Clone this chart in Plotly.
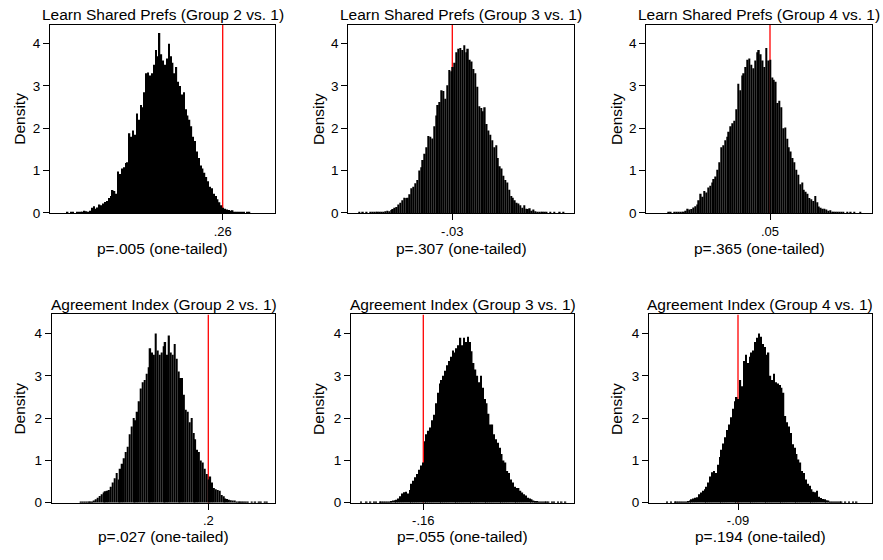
import plotly.graph_objects as go

# ---------------- data ----------------
titles = [
    "Learn Shared Prefs (Group 2 vs. 1)",
    "Learn Shared Prefs (Group 3 vs. 1)",
    "Learn Shared Prefs (Group 4 vs. 1)",
    "Agreement Index (Group 2 vs. 1)",
    "Agreement Index (Group 3 vs. 1)",
    "Agreement Index (Group 4 vs. 1)",
]
x_titles = [
    "p=.005 (one-tailed)",
    "p=.307 (one-tailed)",
    "p=.365 (one-tailed)",
    "p=.027 (one-tailed)",
    "p=.055 (one-tailed)",
    "p=.194 (one-tailed)",
]
observed = [0.26, -0.03, 0.05, 0.20, -0.16, -0.09]
observed_labels = [".26", "-.03", ".05", ".2", "-.16", "-.09"]
bin_width = 0.0075
bin_start = [-0.364, -0.406, -0.358, -0.313, -0.420, -0.3767]
x_ranges = [
    [-0.4308, 0.4692],
    [-0.4460, 0.4568],
    [-0.4448, 0.4568],
    [-0.4264, 0.4680],
    [-0.4492, 0.4428],
    [-0.4460, 0.4448],
]
y_ticks = [0, 1, 2, 3, 4]

dens_lsp_g2 = [
    0.01, 0.00, 0.01, 0.01, 0.00, 0.01, 0.02, 0.01, 0.03, 0.05,
    0.04, 0.03, 0.05, 0.12, 0.16, 0.10, 0.13, 0.20, 0.18, 0.22,
    0.26, 0.28, 0.35, 0.40, 0.54, 0.52, 0.45, 0.98, 0.92, 1.05,
    1.08, 1.18, 1.20, 1.88, 1.80, 1.95, 1.85, 2.35, 2.20, 2.55,
    2.50, 2.85, 3.30, 3.32, 3.25, 3.30, 3.50, 3.85, 3.70, 4.25,
    3.75, 3.60, 3.50, 3.65, 4.00, 3.70, 3.55, 3.30, 3.45, 3.10,
    3.00, 2.80, 2.85, 2.45, 2.30, 2.20, 2.05, 1.80, 1.70, 1.45,
    1.30, 1.12, 1.05, 0.95, 0.85, 0.75, 0.62, 0.58, 0.45, 0.40,
    0.32, 0.25, 0.18, 0.12, 0.10, 0.08, 0.07, 0.05, 0.06, 0.03,
    0.02, 0.03, 0.01, 0.02, 0.01, 0.00, 0.01, 0.01,
]
dens_lsp_g3 = [
    0.01, 0.00, 0.01, 0.00, 0.01, 0.00, 0.01, 0.01, 0.02, 0.01,
    0.03, 0.02, 0.03, 0.02, 0.04, 0.05, 0.04, 0.07, 0.09, 0.12,
    0.14, 0.20, 0.24, 0.30, 0.36, 0.35, 0.36, 0.44, 0.58, 0.62,
    0.70, 0.78, 1.00, 1.08, 1.25, 1.40, 1.55, 1.82, 1.80, 1.76,
    2.05, 2.30, 2.55, 2.62, 2.90, 2.88, 2.70, 3.02, 3.38, 3.35,
    3.45, 3.55, 3.80, 3.88, 3.90, 3.85, 3.96, 3.80, 3.88, 3.62,
    3.58, 3.40, 3.30, 2.98, 2.52, 2.48, 2.40, 2.50, 2.10, 1.95,
    1.85, 1.72, 1.55, 1.60, 1.30, 1.10, 1.05, 0.88, 0.78, 0.72,
    0.55, 0.40, 0.36, 0.30, 0.24, 0.22, 0.18, 0.12, 0.18, 0.10,
    0.09, 0.11, 0.05, 0.08, 0.04, 0.03, 0.02, 0.03, 0.01, 0.02,
    0.01, 0.00, 0.01, 0.00, 0.01, 0.00, 0.00, 0.01, 0.00, 0.01,
    0.00,
]
dens_lsp_g4 = [
    0.01, 0.01, 0.00, 0.01, 0.02, 0.01, 0.02, 0.03, 0.03, 0.05,
    0.10, 0.08, 0.09, 0.13, 0.16, 0.20, 0.30, 0.45, 0.38, 0.52,
    0.48, 0.60, 0.64, 0.72, 0.80, 0.86, 1.02, 1.20, 1.55, 1.60,
    1.72, 1.80, 1.92, 2.05, 2.12, 2.18, 2.45, 3.05, 2.90, 3.25,
    3.30, 3.45, 3.62, 3.65, 3.50, 3.42, 3.60, 3.80, 3.85, 3.75,
    3.60, 3.45, 3.90, 3.60, 3.62, 3.20, 3.15, 3.10, 2.60, 2.65,
    2.50, 2.00, 2.02, 1.75, 1.55, 1.45, 1.30, 1.20, 1.02, 0.90,
    0.68, 0.72, 0.55, 0.50, 0.45, 0.35, 0.32, 0.28, 0.40, 0.25,
    0.15, 0.12, 0.10, 0.10, 0.08, 0.05, 0.06, 0.03, 0.02, 0.03,
    0.01, 0.02, 0.01, 0.01, 0.00, 0.01, 0.00, 0.01, 0.00, 0.01,
    0.00, 0.00, 0.01,
]
dens_ai_g2 = [
    0.01, 0.01, 0.01, 0.02, 0.02, 0.03, 0.03, 0.05, 0.08, 0.12,
    0.16, 0.20, 0.24, 0.27, 0.28, 0.30, 0.38, 0.48, 0.58, 0.70,
    0.55, 0.80, 0.92, 1.05, 1.20, 1.32, 1.62, 1.80, 2.00, 1.95,
    2.15, 2.40, 2.70, 2.85, 2.90, 3.05, 3.20, 3.65, 3.55, 3.50,
    4.00, 3.60, 3.50, 3.55, 3.70, 3.80, 3.50, 3.95, 3.55, 3.50,
    3.75, 3.40, 3.10, 2.95, 2.95, 2.55, 2.20, 2.15, 1.90, 2.00,
    1.65, 1.50, 1.25, 1.20, 1.00, 0.95, 0.80, 0.68, 0.55, 0.62,
    0.48, 0.35, 0.32, 0.30, 0.28, 0.18, 0.15, 0.10, 0.09, 0.07,
    0.06, 0.05, 0.05, 0.03, 0.03, 0.02, 0.02, 0.01, 0.01, 0.01,
    0.00, 0.01, 0.00, 0.01, 0.00, 0.01, 0.01, 0.00, 0.01, 0.01,
]
dens_ai_g3 = [
    0.00, 0.01, 0.00, 0.00, 0.01, 0.00, 0.01, 0.00, 0.01, 0.01,
    0.00, 0.01, 0.01, 0.02, 0.01, 0.02, 0.03, 0.04, 0.05, 0.06,
    0.07, 0.10, 0.15, 0.22, 0.25, 0.26, 0.22, 0.30, 0.45, 0.52,
    0.60, 0.68, 0.78, 0.88, 0.95, 1.45, 1.62, 1.70, 1.78, 1.95,
    2.08, 2.35, 2.60, 2.82, 2.90, 3.00, 3.12, 3.25, 3.35, 3.45,
    3.60, 3.55, 3.65, 3.72, 3.90, 3.72, 3.90, 3.80, 3.92, 3.80,
    3.58, 3.30, 3.15, 3.00, 2.85, 3.00, 2.72, 2.45, 2.35, 2.10,
    1.85, 1.85, 1.62, 1.50, 1.42, 1.30, 1.15, 1.00, 0.95, 0.75,
    0.70, 0.55, 0.48, 0.38, 0.35, 0.35, 0.28, 0.24, 0.20, 0.17,
    0.12, 0.10, 0.08, 0.05, 0.04, 0.04, 0.03, 0.02, 0.02, 0.01,
    0.01, 0.01, 0.00, 0.01, 0.01, 0.00, 0.01, 0.00, 0.01, 0.00,
    0.01,
]
dens_ai_g4 = [
    0.01, 0.00, 0.01, 0.00, 0.01, 0.01, 0.02, 0.01, 0.02, 0.03,
    0.02, 0.04, 0.05, 0.08, 0.10, 0.12, 0.13, 0.20, 0.24, 0.28,
    0.32, 0.38, 0.48, 0.62, 0.72, 0.75, 0.70, 0.90, 1.08, 1.25,
    1.40, 1.55, 1.72, 1.85, 2.02, 2.22, 2.40, 2.50, 2.45, 2.90,
    2.75, 3.35, 3.50, 3.30, 3.45, 3.55, 3.60, 3.80, 3.90, 4.00,
    3.92, 3.75, 3.68, 3.50, 3.55, 3.00, 2.90, 3.05, 2.85, 2.82,
    2.78, 2.72, 2.60, 2.05, 1.90, 1.80, 1.65, 1.38, 1.30, 1.15,
    1.02, 0.95, 0.75, 0.70, 0.55, 0.45, 0.40, 0.32, 0.26, 0.25,
    0.28, 0.14, 0.11, 0.09, 0.08, 0.06, 0.05, 0.03, 0.03, 0.02,
    0.02, 0.01, 0.01, 0.01, 0.00, 0.01, 0.00, 0.01, 0.00, 0.01,
    0.00, 0.01, 0.00,
]
densities = [dens_lsp_g2, dens_lsp_g3, dens_lsp_g4, dens_ai_g2, dens_ai_g3, dens_ai_g4]

# ---------------- layout geometry (pixels) ----------------
W, H = 883, 560
box_x = [(50, 275), (348.3, 574), (646.3, 871.7),
         (51.7, 275.3), (351, 574), (649, 871.7)]
row_y = [(25, 216), (319, 510)]
title_y = [14.5, 308.5]
xtitle_y = [252, 544.5]
dens_x = [20, 318.3, 616.3]

FONT = "Liberation Sans, Arial, Helvetica, sans-serif"
TXT = 15.5
TICK = 13

fig = go.Figure()
annotations = []
shapes = []
layout_axes = {}

for k in range(6):
    row = k // 3
    col = k % 3
    n = "" if k == 0 else str(k + 1)
    xa, ya = "x" + n, "y" + n
    centers = [bin_start[k] + (i + 0.5) * bin_width for i in range(len(densities[k]))]
    fig.add_trace(go.Bar(
        x=centers, y=densities[k], xaxis=xa, yaxis=ya,
        marker=dict(color="#000000", line=dict(width=0)),
        width=bin_width * 0.8, showlegend=False, hoverinfo="skip",
    ))
    x0, x1 = box_x[k]
    y0, y1 = row_y[row]
    layout_axes["xaxis" + n] = dict(
        domain=[x0 / W, x1 / W], anchor=ya, range=x_ranges[k],
        tickvals=[observed[k]], ticktext=[observed_labels[k]],
        ticks="outside", ticklen=6, tickwidth=1, tickcolor="black",
        showline=True, linecolor="black", linewidth=1, mirror=True,
        showgrid=False, zeroline=False,
        tickfont=dict(family=FONT, size=TICK, color="black"),
    )
    layout_axes["yaxis" + n] = dict(
        domain=[1 - y1 / H, 1 - y0 / H], anchor=xa, range=[0, 4.45],
        tickvals=y_ticks, ticktext=[str(v) for v in y_ticks],
        ticks="outside", ticklen=6, tickwidth=1, tickcolor="black",
        showline=True, linecolor="black", linewidth=1, mirror=True,
        showgrid=False, zeroline=False,
        tickfont=dict(family=FONT, size=TICK + 0.5, color="black"),
    )
    shapes.append(dict(
        type="line", xref=xa, yref=ya, x0=observed[k], x1=observed[k],
        y0=0, y1=4.45, line=dict(color="#ff0000", width=1.3), layer="below",
    ))
    cx = (x0 + x1) / 2 / W
    annotations.append(dict(
        text=titles[k], xref="paper", yref="paper", x=cx, y=1 - title_y[row] / H,
        xanchor="center", yanchor="middle", showarrow=False,
        font=dict(family=FONT, size=TXT, color="black"),
    ))
    annotations.append(dict(
        text=x_titles[k], xref="paper", yref="paper", x=cx, y=1 - xtitle_y[row] / H,
        xanchor="center", yanchor="middle", showarrow=False,
        font=dict(family=FONT, size=TXT, color="black"),
    ))
    annotations.append(dict(
        text="Density", xref="paper", yref="paper", x=dens_x[col] / W,
        y=1 - (y0 + y1) / 2 / H, xanchor="center", yanchor="middle",
        showarrow=False, textangle=-90,
        font=dict(family=FONT, size=TXT, color="black"),
    ))

fig.update_layout(
    width=W, height=H, margin=dict(l=0, r=0, t=0, b=0),
    paper_bgcolor="white", plot_bgcolor="white",
    bargap=0.02, annotations=annotations, shapes=shapes,
    font=dict(family=FONT, color="black"),
    **layout_axes,
)

fig.write_html("out.html", config={"displayModeBar": False})
